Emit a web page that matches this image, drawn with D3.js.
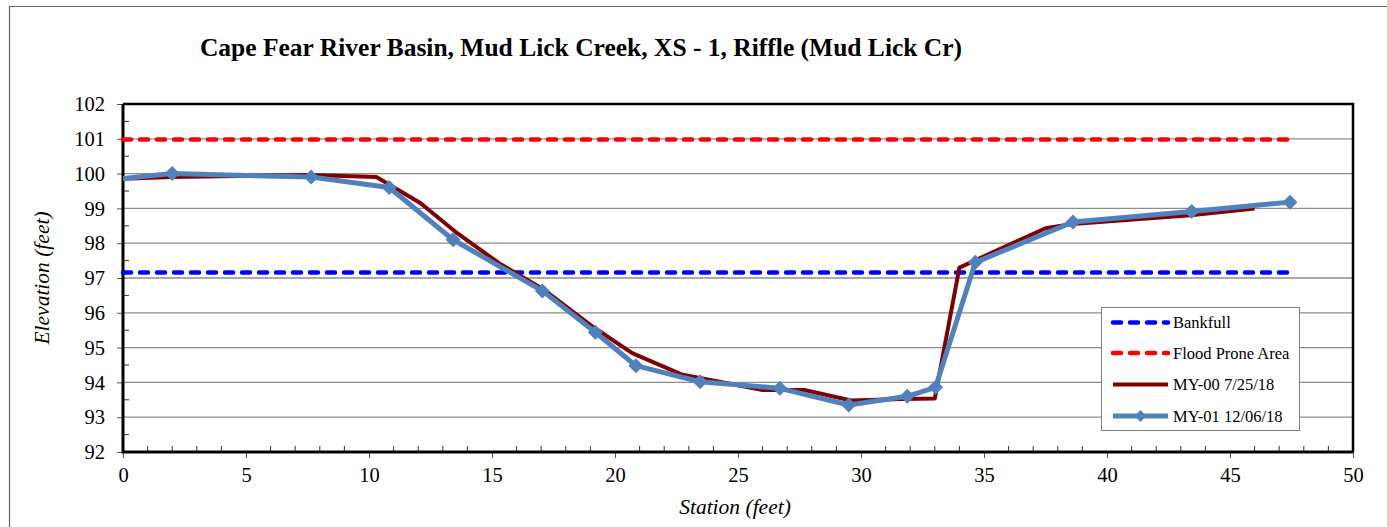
<!DOCTYPE html>
<html><head><meta charset="utf-8">
<script src="https://cdn.jsdelivr.net/npm/d3@7"></script>
<style>body{margin:0;background:#fff}svg{display:block}text{font-family:'Liberation Serif','Times New Roman',serif}</style>
</head><body><svg id="c" width="1387" height="527"></svg>
<script>
const title = "Cape Fear River Basin, Mud Lick Creek, XS - 1, Riffle (Mud Lick Cr)";
const xTicks = [0,5,10,15,20,25,30,35,40,45,50];
const yTicks = [92,93,94,95,96,97,98,99,100,101,102];
const my00Station = [-0.6,2.0,7.6,10.3,12.1,13.6,15.3,17.1,19.1,20.7,22.7,26.0,27.7,29.6,31.7,33.0,34.0,37.5,38.6,43.4,46.0];
const my00Elev    = [99.84,99.9,99.96,99.9,99.15,98.28,97.42,96.67,95.6,94.84,94.23,93.78,93.78,93.48,93.52,93.54,97.3,98.43,98.55,98.8,99.0];
const my01Station = [-0.6,2.0,7.65,10.82,13.42,17.05,19.2,20.85,23.46,26.7,29.5,31.88,33.03,34.65,38.62,43.44,47.44];
const my01Elev    = [99.82,100.0,99.9,99.6,98.1,96.63,95.44,94.48,94.02,93.83,93.35,93.6,93.86,97.45,98.61,98.91,99.18];
const bankfull = {elev: 97.16, from: 0, to: 47.5};
const floodProne = {elev: 100.98, from: 0, to: 47.5};
const legendLabels = ["Bankfull","Flood Prone Area","MY-00 7/25/18","MY-01 12/06/18"];

const svg = d3.select("#c");
const L=123, R=1353, T=104, B=452;
const x = d3.scaleLinear().domain([0,50]).range([L,R]);
const y = d3.scaleLinear().domain([92,102]).range([B,T]);
const serif = "'Liberation Serif','Times New Roman',serif";

svg.append("defs").append("clipPath").attr("id","plot").append("rect")
  .attr("x",L).attr("y",T).attr("width",R-L).attr("height",B-T);

// outer border
svg.append("path").attr("d",`M9.5,${527}V6.5H1387`).attr("fill","none").attr("stroke","#666").attr("stroke-width",1.2);

// title
svg.append("text").attr("x",581).attr("y",56).attr("text-anchor","middle")
  .style("font-family",serif).attr("font-weight","bold").attr("font-size",25.5).text(title);

// gridlines
svg.append("g").selectAll("line").data(yTicks.slice(1,-1)).join("line")
  .attr("x1",L).attr("x2",R).attr("y1",d=>y(d)).attr("y2",d=>y(d))
  .attr("stroke","#8c8c8c").attr("stroke-width",1.3);

// minor ticks
const xMinor = d3.range(0,51,1).filter(v=>v%5!==0);
svg.append("g").selectAll("line").data(xMinor).join("line")
  .attr("x1",d=>x(d)).attr("x2",d=>x(d)).attr("y1",B).attr("y2",B-6).attr("stroke","#333").attr("stroke-width",1);
const yMinor = d3.range(92.5,102,1);
svg.append("g").selectAll("line").data(yMinor).join("line")
  .attr("x1",L).attr("x2",L+6).attr("y1",d=>y(d)).attr("y2",d=>y(d)).attr("stroke","#333").attr("stroke-width",1);

// axes
const xAxis = d3.axisBottom(x).tickValues(xTicks).tickSize(6).tickPadding(9).tickFormat(d3.format("d"));
const gx = svg.append("g").attr("transform",`translate(0,${B})`).call(xAxis);
const yAxis = d3.axisLeft(y).tickValues(yTicks).tickSize(6).tickPadding(12).tickFormat(d3.format("d"));
const gy = svg.append("g").attr("transform",`translate(${L},0)`).call(yAxis);
[gx,gy].forEach(g=>{
  g.attr("font-family",null);
  g.select(".domain").remove();
  g.selectAll("line").attr("stroke","#555").attr("stroke-width",1);
  g.selectAll("text").style("font-family",serif).attr("font-size",20.5).attr("fill","#000");
});
gy.selectAll("text").attr("dy","0.33em");

// frame
svg.append("path").attr("d",`M${L},${T}H${R}V${B}`).attr("fill","none").attr("stroke","#000").attr("stroke-width",2.5);
svg.append("path").attr("d",`M${L},${T}V${B}H${R}`).attr("fill","none").attr("stroke","#000").attr("stroke-width",3);

// axis titles
svg.append("text").attr("transform",`translate(49,${(T+B)/2}) rotate(-90)`).attr("text-anchor","middle")
  .style("font-family",serif).attr("font-style","italic").attr("font-size",21.5).text("Elevation (feet)");
svg.append("text").attr("x",(L+R)/2 - 3).attr("y",514).attr("text-anchor","middle")
  .style("font-family",serif).attr("font-style","italic").attr("font-size",21.5).text("Station (feet)");

// reference lines
function refLine(r,color){
  svg.append("line").attr("x1",x(r.from)).attr("x2",x(r.to)).attr("y1",y(r.elev)).attr("y2",y(r.elev))
    .attr("stroke",color).attr("stroke-width",4.5).attr("stroke-dasharray","8,9").attr("stroke-linecap","round");
}
refLine(bankfull,"#0000ff");
refLine(floodProne,"#ff0000");

const series = svg.append("g").attr("clip-path","url(#plot)");
const line = d3.line().x(d=>x(d[0])).y(d=>y(d[1]));
const d00 = my00Station.map((s,i)=>[s,my00Elev[i]]);
const d01 = my01Station.map((s,i)=>[s,my01Elev[i]]);
series.append("path").attr("d",line(d00)).attr("fill","none").attr("stroke","#800000").attr("stroke-width",4).attr("stroke-linejoin","round");
series.append("path").attr("d",line(d01)).attr("fill","none").attr("stroke","#4f81bd").attr("stroke-width",5).attr("stroke-linejoin","round");
const diamond = s=>`M0,${-s}L${s},0L0,${s}L${-s},0Z`;
series.append("g").selectAll("path").data(d01).join("path")
  .attr("transform",d=>`translate(${x(d[0])},${y(d[1])})`).attr("d",diamond(7.5)).attr("fill","#4f81bd");

// legend
const lg = svg.append("g");
lg.append("rect").attr("x",1101.5).attr("y",307.5).attr("width",198).attr("height",123)
  .attr("fill","#fff").attr("stroke","#808080").attr("stroke-width",1);
const rowsY=[322.5,353,384.5,416];
const styles=[
  {c:"#0000ff",w:4.5,dash:"8,9",cap:"round"},
  {c:"#ff0000",w:4.5,dash:"8,9",cap:"round"},
  {c:"#800000",w:4,dash:null,cap:"butt"},
  {c:"#4f81bd",w:5,dash:null,cap:"butt",marker:true}];
legendLabels.forEach((lab,i)=>{
  const st=styles[i];
  lg.append("line").attr("x1",1113).attr("x2",1168).attr("y1",rowsY[i]).attr("y2",rowsY[i])
    .attr("stroke",st.c).attr("stroke-width",st.w).attr("stroke-dasharray",st.dash).attr("stroke-linecap",st.cap);
  if(st.marker) lg.append("path").attr("transform",`translate(1140.5,${rowsY[i]})`).attr("d",diamond(6)).attr("fill",st.c);
  lg.append("text").attr("x",1173).attr("y",rowsY[i]).attr("dy","0.35em").style("font-family",serif)
    .attr("font-size",16.5).text(lab);
});
</script></body></html>
